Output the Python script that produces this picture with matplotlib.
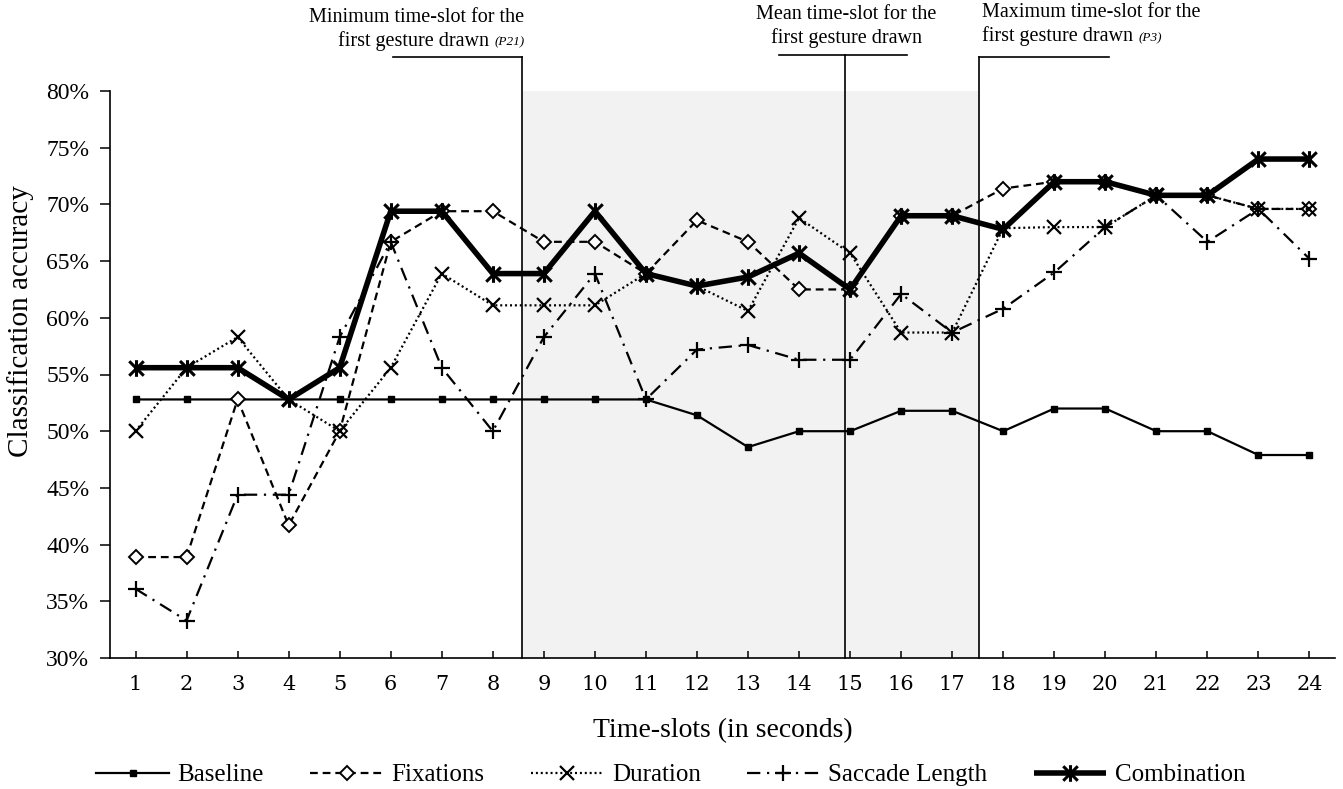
import matplotlib
matplotlib.use("Agg")
import matplotlib.pyplot as plt
from matplotlib.path import Path
from matplotlib.offsetbox import TextArea, HPacker, VPacker, AnnotationBbox
from matplotlib.ticker import FuncFormatter

# ---------------- data ----------------
slots = list(range(1, 25))
baseline = [52.8, 52.8, 52.8, 52.8, 52.8, 52.8, 52.8, 52.8, 52.8, 52.8, 52.8, 51.4,
            48.6, 50.0, 50.0, 51.8, 51.8, 50.0, 52.0, 52.0, 50.0, 50.0, 47.9, 47.9]
fixations = [38.9, 38.9, 52.8, 41.7, 50.0, 66.7, 69.4, 69.4, 66.7, 66.7, 63.9, 68.6,
             66.7, 62.5, 62.5, 69.0, 69.0, 71.4, 72.0, 72.0, 70.8, 70.8, 69.6, 69.6]
duration = [50.0, 55.6, 58.3, 52.8, 50.0, 55.6, 63.9, 61.1, 61.1, 61.1, 63.9, 62.8,
            60.6, 68.8, 65.7, 58.7, 58.7, 67.9, 68.0, 68.0, 70.8, 70.8, 69.6, 69.6]
saccade = [36.1, 33.3, 44.4, 44.4, 58.3, 66.7, 55.6, 50.0, 58.3, 63.9, 52.8, 57.2,
           57.6, 56.3, 56.3, 62.1, 58.7, 60.8, 64.0, 68.0, 70.8, 66.7, 69.6, 65.2]
combination = [55.6, 55.6, 55.6, 52.8, 55.6, 69.4, 69.4, 63.9, 63.9, 69.4, 63.9, 62.8,
               63.6, 65.7, 62.5, 69.0, 69.0, 67.8, 72.0, 72.0, 70.8, 70.8, 74.0, 74.0]

min_slot = 8.58    # minimum time-slot for first gesture (P21)
mean_slot = 14.9   # mean time-slot
max_slot = 17.52   # maximum time-slot (P3)

serif = "Liberation Serif"

# ---------------- figure ----------------
fig = plt.figure(figsize=(13.43, 7.89), dpi=100)
ax = fig.add_axes([110 / 1343, 1 - 658 / 789, 1225 / 1343, 567 / 789])
ax.set_xlim(0.5, 24.5)
ax.set_ylim(30, 80)

# shaded range between min and max
ax.axvspan(min_slot, max_slot, ymin=0, ymax=1, color="#f2f2f2", zorder=0, lw=0)

# star marker (X + vertical line)
star = Path([(-1, -1), (1, 1), (-1, 1), (1, -1), (0, -1.15), (0, 1.15)],
            [Path.MOVETO, Path.LINETO, Path.MOVETO, Path.LINETO, Path.MOVETO, Path.LINETO])

l1, = ax.plot(slots, baseline, color="black", lw=1.6, marker="s", ms=4.5,
              label="Baseline", zorder=3)
l2, = ax.plot(slots, fixations, color="black", lw=1.6, ls=(0, (3.5, 2.2)), marker="D",
              ms=7, mfc="white", mew=1.4, label="Fixations", zorder=4)
l3, = ax.plot(slots, duration, color="black", lw=1.6, ls=(0, (0.9, 1.3)), marker="x",
              ms=10, mew=1.6, label="Duration", zorder=4)
l4, = ax.plot(slots, saccade, color="black", lw=1.6, ls=(0, (6, 3, 1, 3)), marker="+",
              ms=12, mew=1.6, label="Saccade Length", zorder=4)
l5, = ax.plot(slots, combination, color="black", lw=4.0, marker=star, ms=12, mew=2.2,
              label="Combination", zorder=5, solid_capstyle="butt")

# vertical reference lines with brackets
top_y = 83.0
mean_top = 83.2
ax.plot([min_slot, min_slot], [30, top_y], color="black", lw=1.2, clip_on=False, zorder=2)
ax.plot([mean_slot, mean_slot], [30, mean_top], color="black", lw=1.2, clip_on=False, zorder=2)
ax.plot([max_slot, max_slot], [30, top_y], color="black", lw=1.2, clip_on=False, zorder=2)
ax.plot([6.05, min_slot], [top_y, top_y], color="black", lw=1.2, clip_on=False)
ax.plot([13.6, 16.11], [mean_top, mean_top], color="black", lw=1.2, clip_on=False)
ax.plot([max_slot, 20.08], [top_y, top_y], color="black", lw=1.2, clip_on=False)

# annotation texts
tp = dict(fontfamily=serif, fontsize=14.5, color="black")
ip = dict(fontfamily=serif, fontsize=9.5, fontstyle="italic", color="black")


def note(line1, line2, sub, xy, align, box_align):
    rows = [TextArea(line1, textprops=tp)]
    second = [TextArea(line2, textprops=tp)]
    if sub:
        second.append(TextArea(sub, textprops=ip))
    rows.append(HPacker(children=second, align="baseline", pad=0, sep=4))
    pack = VPacker(children=rows, align=align, pad=0, sep=3)
    ab = AnnotationBbox(pack, xy, xycoords="data", box_alignment=box_align,
                        frameon=False, pad=0, annotation_clip=False)
    ax.add_artist(ab)


note("Minimum time-slot for the", "first gesture drawn", "(P21)", (8.62, 83.55), "right", (1, 0))
note("Mean time-slot for the", "first gesture drawn", None, (14.92, 83.75), "center", (0.5, 0))
note("Maximum time-slot for the", "first gesture drawn", "(P3)", (17.58, 83.95), "left", (0, 0))

# axes styling
for s in ("top", "right"):
    ax.spines[s].set_visible(False)
for s in ("left", "bottom"):
    ax.spines[s].set_linewidth(1.2)

ax.set_xticks(slots)
ax.set_xticklabels([str(s) for s in slots], fontfamily="DejaVu Serif", fontsize=15)
ax.tick_params(axis="x", direction="in", length=5, width=1.1, pad=12)
ax.set_yticks(range(30, 81, 5))
ax.yaxis.set_major_formatter(FuncFormatter(lambda v, p: f"{int(v)}%"))
for t in ax.get_yticklabels():
    t.set_fontfamily(serif)
    t.set_fontsize(17)
ax.tick_params(axis="y", direction="out", length=7, width=1.1, pad=8)

ax.set_xlabel("Time-slots (in seconds)", fontfamily=serif, fontsize=20)
ax.xaxis.set_label_coords(0.5, -0.106)
ax.set_ylabel("Classification accuracy", fontfamily=serif, fontsize=21)
ax.yaxis.set_label_coords(-0.073, 0.594)
ax.yaxis.label.set_verticalalignment("center")

fig.legend(handles=[l1, l2, l3, l4, l5], loc="center", bbox_to_anchor=(0.4996, 1 - 775 / 789),
           ncol=5, frameon=False, prop=dict(family=serif, size=18), handlelength=2.9,
           handletextpad=0.35, columnspacing=1.85, borderaxespad=0)

fig.savefig("out.png", dpi=100)
